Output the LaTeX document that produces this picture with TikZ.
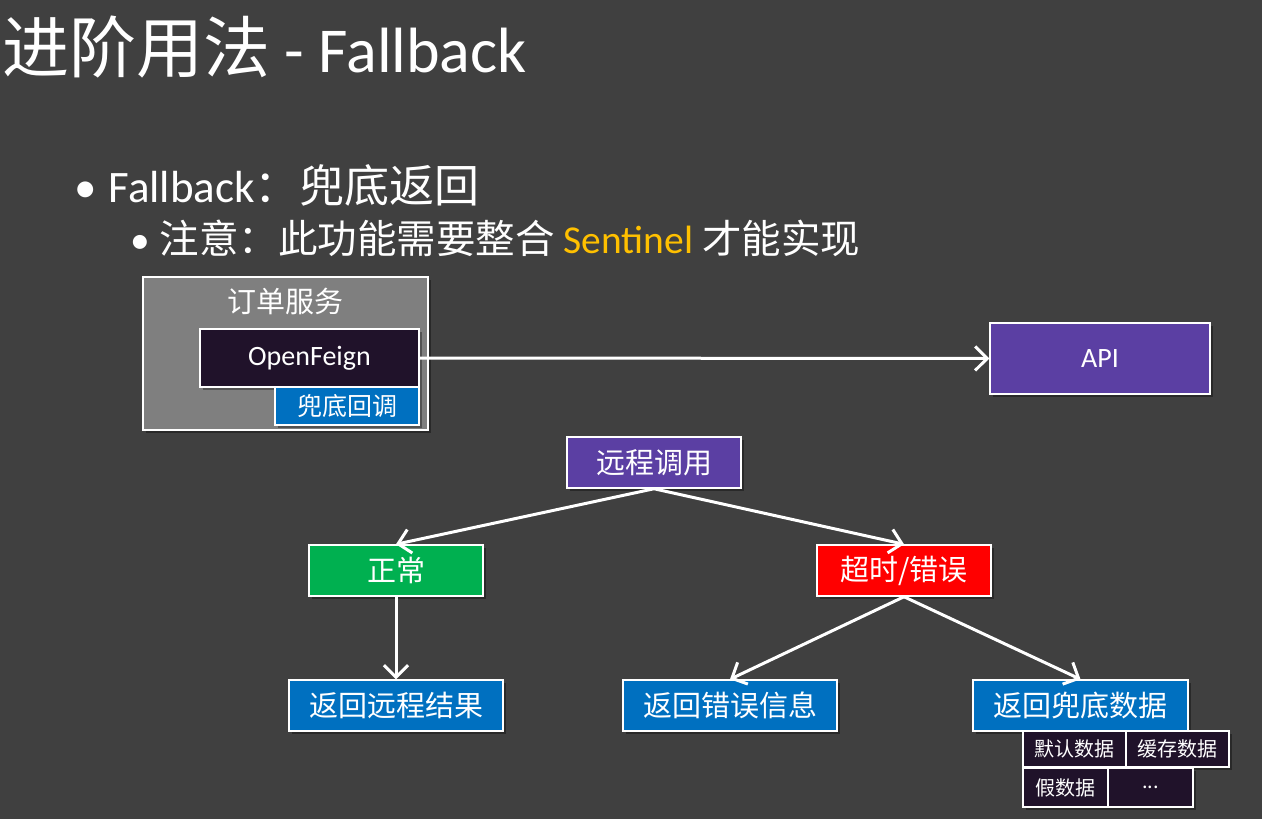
\documentclass[tikz,border=0pt]{standalone}
\usepackage{fontspec}
\setmainfont{Noto Sans CJK SC}
\newfontfamily\lat{Carlito}
\usetikzlibrary{arrows.meta,shadows}
\definecolor{bg}{HTML}{404040}
\definecolor{boxgray}{HTML}{7F7F7F}
\definecolor{darkbox}{HTML}{20122A}
\definecolor{bluebox}{HTML}{0070C0}
\definecolor{purplebox}{HTML}{5B3FA3}
\definecolor{greenbox}{HTML}{00B050}
\definecolor{redbox}{HTML}{FF0000}
\definecolor{orangetxt}{HTML}{FFC000}
\tikzset{
  box/.style={draw=white, line width=1.5pt, text=white, inner sep=0pt,
    drop shadow={shadow xshift=3pt, shadow yshift=-3pt, opacity=0.35, fill=black}},
  flow/.style={draw=white, line width=3pt, -{Straight Barb[length=12pt,width=24pt,line width=3pt]}},
  f30/.style={font=\fontsize{29}{32}\selectfont},
  f26/.style={font=\fontsize{25}{30}\selectfont},
  f28l/.style={font=\fontsize{28}{32}\selectfont\lat},
  f20/.style={font=\fontsize{20}{24}\selectfont},
}
\begin{document}
\begin{tikzpicture}[x=1pt,y=-1pt]
\fill[bg] (0,0) rectangle (1262,819);
\useasboundingbox (0,0) rectangle (1262,819);
% title
\node[anchor=west, text=white, inner sep=0pt, font=\fontsize{67}{72}\selectfont] (title) at (2,47) {进阶用法{\lat\fontsize{64}{70}\selectfont{} - Fallback}};
\node[anchor=west, text=white, inner sep=0pt, font=\fontsize{45}{50}\selectfont] (b1) at (74,185) {{\lat •\hspace{12pt}Fallback}：兜底返回};
\node[anchor=west, text=white, inner sep=0pt, font=\fontsize{39.5}{44}\selectfont] (b2) at (130,238) {{\lat •\hspace{10pt}}注意：此功能需要整合{\lat\fontsize{39.5}{44}\selectfont{} \textcolor{orangetxt}{Sentinel} }才能实现};
% service box
\node[box, fill=boxgray, minimum width=285pt, minimum height=153pt] (svc) at (285.5,353.5) {};
\node[f30, text=white, inner sep=0pt] (svct) at (285.5,301) {订单服务};
\node[box, fill=darkbox, minimum width=219pt, minimum height=58pt, f28l] (feign) at (309.5,358) {OpenFeign};
\node[box, fill=bluebox, minimum width=144pt, minimum height=38pt, f26] (cb) at (347,406) {兜底回调};
\node[box, fill=purplebox, minimum width=220pt, minimum height=71pt, f28l] (api) at (1100,358.5) {API};
\draw[flow] (feign.east) -- (api.west);
% tree
\node[box, fill=purplebox, minimum width=174pt, minimum height=51pt, f30] (rc) at (654,462.5) {远程调用};
\node[box, fill=greenbox, minimum width=174pt, minimum height=51pt, f30] (ok) at (396,570.5) {正常};
\node[box, fill=redbox, minimum width=174pt, minimum height=51pt, f30] (err) at (904,570.5) {超时/错误};
\node[box, fill=bluebox, minimum width=214pt, minimum height=51pt, f30] (r1) at (396,705.5) {返回远程结果};
\node[box, fill=bluebox, minimum width=214pt, minimum height=51pt, f30] (r2) at (730,705.5) {返回错误信息};
\node[box, fill=bluebox, minimum width=215pt, minimum height=51pt, f30] (r3) at (1080.5,705.5) {返回兜底数据};
\node[box, fill=darkbox, minimum width=103pt, minimum height=36pt, f20] (d1) at (1074.5,749) {默认数据};
\node[box, fill=darkbox, minimum width=103pt, minimum height=36pt, f20] (d2) at (1177.5,749) {缓存数据};
\node[box, fill=darkbox, minimum width=85pt, minimum height=39pt, f20] (d3) at (1065.5,787.5) {假数据};
\node[box, fill=darkbox, minimum width=85pt, minimum height=39pt, f20] (d4) at (1150.5,787.5) {...};
\draw[flow] (rc.south) -- (ok.north);
\draw[flow] (rc.south) -- (err.north);
\draw[flow] (ok.south) -- (r1.north);
\draw[flow] (err.south) -- (r2.north);
\draw[flow] (err.south) -- (r3.north);
\end{tikzpicture}
\end{document}
